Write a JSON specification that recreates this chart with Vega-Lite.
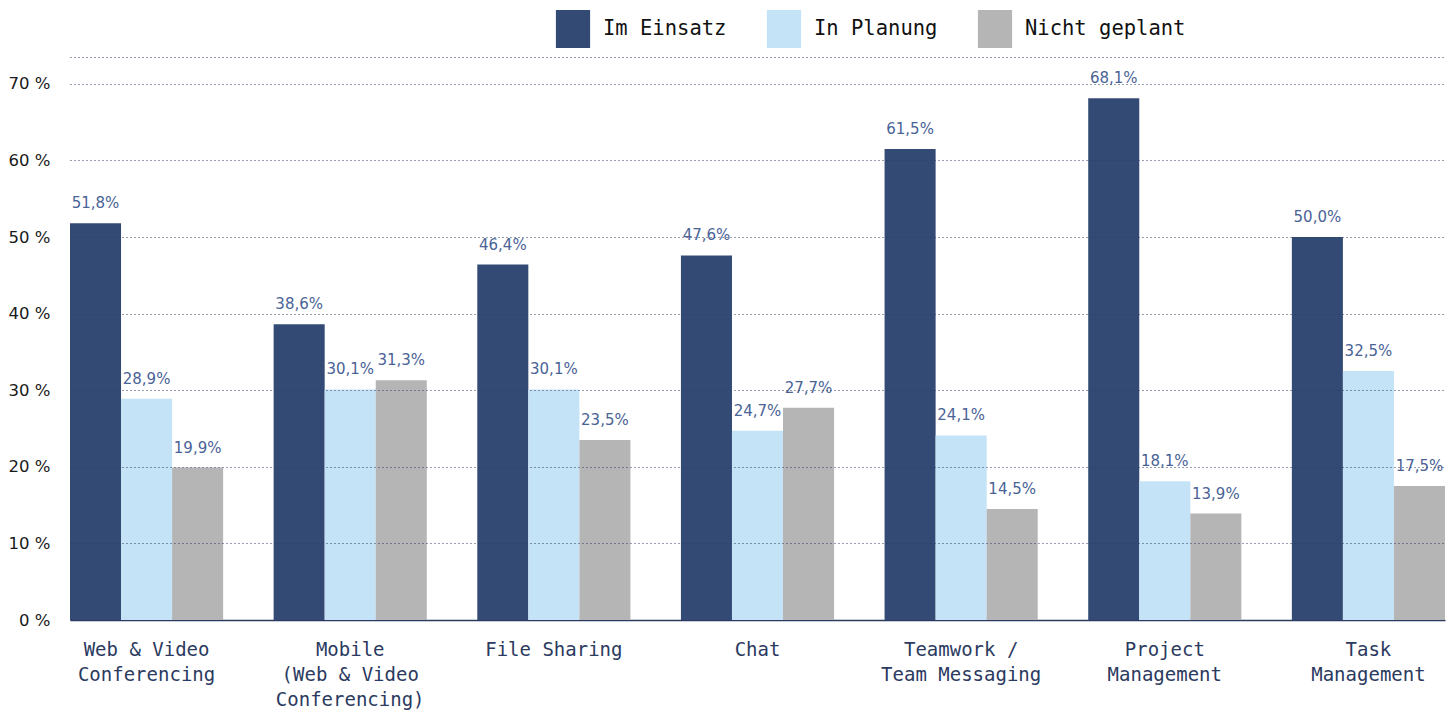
{
  "$schema": "https://vega.github.io/schema/vega-lite/v6.json",
  "width": 1375,
  "height": 563,
  "autosize": {"type": "none"},
  "padding": {"left": 70, "top": 57, "right": 10, "bottom": 91},
  "background": "#ffffff",
  "config": {
    "view": {"stroke": null},
    "locale": {
      "number": {"decimal": ",", "thousands": ".", "grouping": [3], "currency": ["", " €"]}
    }
  },
  "data": {
    "values": [
      {"category": "Web & Video|Conferencing", "series": "Im Einsatz", "value": 0.518},
      {"category": "Web & Video|Conferencing", "series": "In Planung", "value": 0.289},
      {"category": "Web & Video|Conferencing", "series": "Nicht geplant", "value": 0.199},
      {"category": "Mobile|(Web & Video|Conferencing)", "series": "Im Einsatz", "value": 0.386},
      {"category": "Mobile|(Web & Video|Conferencing)", "series": "In Planung", "value": 0.301},
      {"category": "Mobile|(Web & Video|Conferencing)", "series": "Nicht geplant", "value": 0.313},
      {"category": "File Sharing", "series": "Im Einsatz", "value": 0.464},
      {"category": "File Sharing", "series": "In Planung", "value": 0.301},
      {"category": "File Sharing", "series": "Nicht geplant", "value": 0.235},
      {"category": "Chat", "series": "Im Einsatz", "value": 0.476},
      {"category": "Chat", "series": "In Planung", "value": 0.247},
      {"category": "Chat", "series": "Nicht geplant", "value": 0.277},
      {"category": "Teamwork /|Team Messaging", "series": "Im Einsatz", "value": 0.615},
      {"category": "Teamwork /|Team Messaging", "series": "In Planung", "value": 0.241},
      {"category": "Teamwork /|Team Messaging", "series": "Nicht geplant", "value": 0.145},
      {"category": "Project|Management", "series": "Im Einsatz", "value": 0.681},
      {"category": "Project|Management", "series": "In Planung", "value": 0.181},
      {"category": "Project|Management", "series": "Nicht geplant", "value": 0.139},
      {"category": "Task|Management", "series": "Im Einsatz", "value": 0.500},
      {"category": "Task|Management", "series": "In Planung", "value": 0.325},
      {"category": "Task|Management", "series": "Nicht geplant", "value": 0.175}
    ]
  },
  "encoding": {
    "x": {
      "field": "category",
      "type": "nominal",
      "sort": null,
      "title": null,
      "scale": {"paddingInner": 0.248, "paddingOuter": 0},
      "axis": {
        "labelAngle": 0,
        "labelExpr": "split(datum.label, '|')",
        "labelFont": "DejaVu Sans Mono",
        "labelFontSize": 19,
        "labelColor": "#2b3a60",
        "labelLineHeight": 25,
        "labelPadding": 20,
        "labelBaseline": "top",
        "ticks": false,
        "domain": true,
        "domainColor": "#2b3a60",
        "domainWidth": 1.5,
        "grid": false
      }
    },
    "xOffset": {"field": "series", "type": "nominal", "sort": ["Im Einsatz", "In Planung", "Nicht geplant"], "scale": {"paddingInner": 0, "paddingOuter": 0}},
    "y": {
      "field": "value",
      "type": "quantitative",
      "title": null,
      "scale": {"domain": [0, 0.735], "nice": false},
      "axis": {
        "values": [0, 0.1, 0.2, 0.3, 0.4, 0.5, 0.6, 0.7, 0.735],
        "labelExpr": "datum.value > 0.71 ? '' : format(datum.value * 100, 'd') + ' %'",
        "labelFont": "DejaVu Sans",
        "labelFontSize": 16.5,
        "labelColor": "#1a1a1a",
        "labelPadding": 20,
        "ticks": false,
        "domain": false,
        "grid": true,
        "gridColor": "#2b3a60",
        "gridDash": [1, 3],
        "gridWidth": 1,
        "zindex": 1
      }
    }
  },
  "layer": [
    {
      "mark": {"type": "bar"},
      "encoding": {
        "color": {
          "field": "series",
          "type": "nominal",
          "sort": ["Im Einsatz", "In Planung", "Nicht geplant"],
          "scale": {"domain": ["Im Einsatz", "In Planung", "Nicht geplant"], "range": ["#334a75", "#c5e3f7", "#b5b5b5"]},
          "legend": {
            "title": null,
            "orient": "none",
            "direction": "horizontal",
            "legendX": 484,
            "legendY": -47,
            "symbolType": "M-0.9,-1H0.9V1H-0.9Z",
            "symbolSize": 1444,
            "symbolStrokeWidth": 0,
            "symbolOpacity": 1,
            "labelFont": "DejaVu Sans Mono",
            "labelFontSize": 20.5,
            "labelLimit": 400,
            "labelColor": "#111111",
            "labelOffset": 11,
            "columnPadding": 38
          }
        }
      }
    },
    {
      "mark": {"type": "text", "dy": -20, "baseline": "middle", "font": "DejaVu Sans", "fontSize": 15, "color": "#4a6396"},
      "encoding": {
        "text": {"field": "value", "type": "quantitative", "format": ".1%"}
      }
    }
  ]
}
